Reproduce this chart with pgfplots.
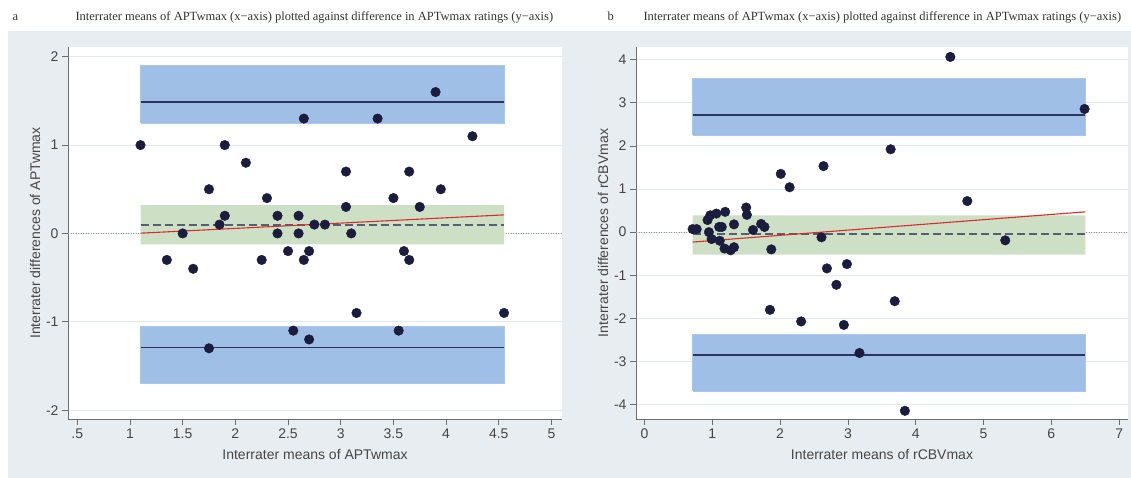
\documentclass[border=0pt]{standalone}
\usepackage{fontspec}
\setmainfont{Liberation Serif}
\newfontfamily\arialfont{Liberation Sans}
\usepackage{pgfplots}
\pgfplotsset{compat=1.18}

\definecolor{panelgray}{RGB}{232,237,241}
\definecolor{gridblue}{RGB}{224,232,240}
\definecolor{axisgray}{RGB}{110,110,110}
\definecolor{labelgray}{RGB}{70,70,70}
\definecolor{titlegray}{RGB}{50,50,50}
\definecolor{bandblue}{RGB}{160,191,230}
\definecolor{bandedge}{RGB}{170,198,234}
\definecolor{bandgreen}{RGB}{205,224,197}
\definecolor{meanline}{RGB}{45,52,92}
\definecolor{dashline}{RGB}{85,94,114}
\definecolor{regred}{RGB}{214,45,45}
\definecolor{dotnavy}{RGB}{28,28,62}

\pgfplotsset{
  ba/.style={
    scale only axis, anchor=south west,
    axis x line*=bottom, axis y line*=left,
    axis line style={draw=axisgray,-}, tick style={draw=axisgray,line width=0.6pt},
    tick align=outside, major tick length=6pt,
    axis background/.style={fill=white},
    ymajorgrids, grid style={gridblue,line width=0.9pt},
    tick label style={font=\arialfont\fontsize{14}{14}\selectfont,text=labelgray},
    label style={font=\arialfont\fontsize{14}{14}\selectfont,text=labelgray},
    xlabel style={at={(axis description cs:0.5,0)},anchor=center,yshift=-36pt},
    ylabel style={at={(axis description cs:0,0.5)},anchor=center,yshift=33pt},
    /pgf/number format/assume math mode=true,
  },
  band/.style={fill=bandblue,draw=bandedge,line width=0.6pt,forget plot},
  gband/.style={fill=bandgreen,draw=none,forget plot},
  mline/.style={meanline,line width=1.7pt},
  dline/.style={dashline,line width=2pt,dash pattern=on 8pt off 4pt},
  rline/.style={regred,line width=1.1pt},
  zline/.style={gray!80,line width=0.8pt,dash pattern=on 1pt off 1.5pt},
  pts/.style={only marks,mark=*,mark size=4.8pt,mark options={fill=dotnavy,draw=dotnavy}},
}

\begin{document}
\begin{tikzpicture}[x=1pt,y=1pt]
\fill[white] (0pt,0pt) rectangle (1131pt,478pt);
\fill[panelgray] (8pt,0pt) rectangle (1131pt,447pt);
\begin{scope}[every node/.style={anchor=base west,text=titlegray,font=\fontsize{12.5}{13}\selectfont}]
\node at (9pt,457pt) {a};
\node at (72pt,457pt) {Interrater means of APTwmax (x−axis) plotted against difference in APTwmax ratings (y−axis)};
\node at (604pt,457pt) {b};
\node at (640pt,457pt) {Interrater means of APTwmax (x−axis) plotted against difference in APTwmax ratings (y−axis)};
\end{scope}

% panel a
\begin{axis}[ba,at={(68pt,59pt)},width=494pt,height=372pt,
  xmin=0.412,xmax=5.10,ymin=-2.1,ymax=2.11,
  xtick={0.5,1,1.5,2,2.5,3,3.5,4,4.5,5},xticklabels={.5,1,1.5,2,2.5,3,3.5,4,4.5,5},
  ytick={-2,-1,0,1,2},yticklabels={-2,-1,0,1,2},
  xlabel={Interrater means of APTwmax},ylabel={Interrater differences of APTwmax}]
\addplot[zline] coordinates {(0.412,0) (5.10,0)};
\addplot[band] coordinates {(1.10,1.25) (4.55,1.25) (4.55,1.90) (1.10,1.90) (1.10,1.25)};
\addplot[band] coordinates {(1.10,-1.70) (4.55,-1.70) (4.55,-1.053) (1.10,-1.053) (1.10,-1.70)};
\addplot[gband] coordinates {(1.10,-0.125) (4.55,-0.125) (4.55,0.32) (1.10,0.32) (1.10,-0.125)};
\addplot[mline] coordinates {(1.10,1.485) (4.55,1.485)};
\addplot[mline] coordinates {(1.10,-1.29) (4.55,-1.29)};
\addplot[dline] coordinates {(1.10,0.10) (4.55,0.10)};
\addplot[rline] coordinates {(1.10,0.003) (4.55,0.21)};
\addplot[pts] coordinates {
(1.1,1.0) (2.65,1.3) (3.35,1.3) (3.9,1.6) (4.25,1.1) (1.9,1.0) (2.1,0.8)
(3.05,0.7) (3.65,0.7) (1.75,0.5) (3.95,0.5) (2.3,0.4) (3.5,0.4) (3.05,0.3)
(3.75,0.3) (1.9,0.2) (2.4,0.2) (2.6,0.2) (1.85,0.1) (2.75,0.1) (2.85,0.1)
(1.5,0.0) (2.4,0.0) (2.6,0.0) (3.1,0.0) (2.5,-0.2) (2.7,-0.2) (3.6,-0.2)
(1.35,-0.3) (2.25,-0.3) (2.65,-0.3) (3.65,-0.3) (1.6,-0.4) (3.15,-0.9)
(4.55,-0.9) (2.55,-1.1) (3.55,-1.1) (2.7,-1.2) (1.75,-1.3)};
\end{axis}

% panel b
\begin{axis}[ba,at={(636pt,59pt)},width=492pt,height=372pt,
  xmin=-0.125,xmax=7.13,ymin=-4.33,ymax=4.29,
  xtick={0,1,2,3,4,5,6,7},xticklabels={0,1,2,3,4,5,6,7},
  ytick={-4,-3,-2,-1,0,1,2,3,4},yticklabels={-4,-3,-2,-1,0,1,2,3,4},
  xlabel={Interrater means of rCBVmax},ylabel={Interrater differences of rCBVmax}]
\addplot[zline] coordinates {(-0.125,0) (7.13,0)};
\addplot[band] coordinates {(0.71,2.24) (6.50,2.24) (6.50,3.56) (0.71,3.56) (0.71,2.24)};
\addplot[band] coordinates {(0.71,-3.68) (6.50,-3.68) (6.50,-2.376) (0.71,-2.376) (0.71,-3.68)};
\addplot[gband] coordinates {(0.71,-0.52) (6.50,-0.52) (6.50,0.39) (0.71,0.39) (0.71,-0.52)};
\addplot[mline] coordinates {(0.71,2.72) (6.50,2.72)};
\addplot[mline] coordinates {(0.71,-2.85) (6.50,-2.85)};
\addplot[dline] coordinates {(0.71,-0.054) (6.50,-0.054)};
\addplot[rline] coordinates {(0.71,-0.23) (6.50,0.47)};
\addplot[pts] coordinates {
(4.51,4.06) (6.49,2.855) (3.63,1.92) (2.64,1.53) (2.01,1.35) (2.14,1.04)
(4.76,0.72) (5.32,-0.19) (2.61,-0.12) (1.50,0.57) (1.51,0.40) (1.19,0.47)
(1.06,0.43) (0.97,0.39) (0.93,0.28) (1.32,0.18) (1.10,0.12) (1.14,0.12)
(1.72,0.19) (1.77,0.12) (1.60,0.05) (0.71,0.07) (0.77,0.07) (0.95,0.0)
(0.99,-0.16) (1.11,-0.20) (1.18,-0.38) (1.27,-0.42) (1.32,-0.35) (1.87,-0.40)
(2.69,-0.84) (2.985,-0.74) (2.83,-1.22) (3.69,-1.60) (1.85,-1.80)
(2.31,-2.07) (2.94,-2.15) (3.17,-2.80) (3.84,-4.14)};
\end{axis}
\end{tikzpicture}
\end{document}
